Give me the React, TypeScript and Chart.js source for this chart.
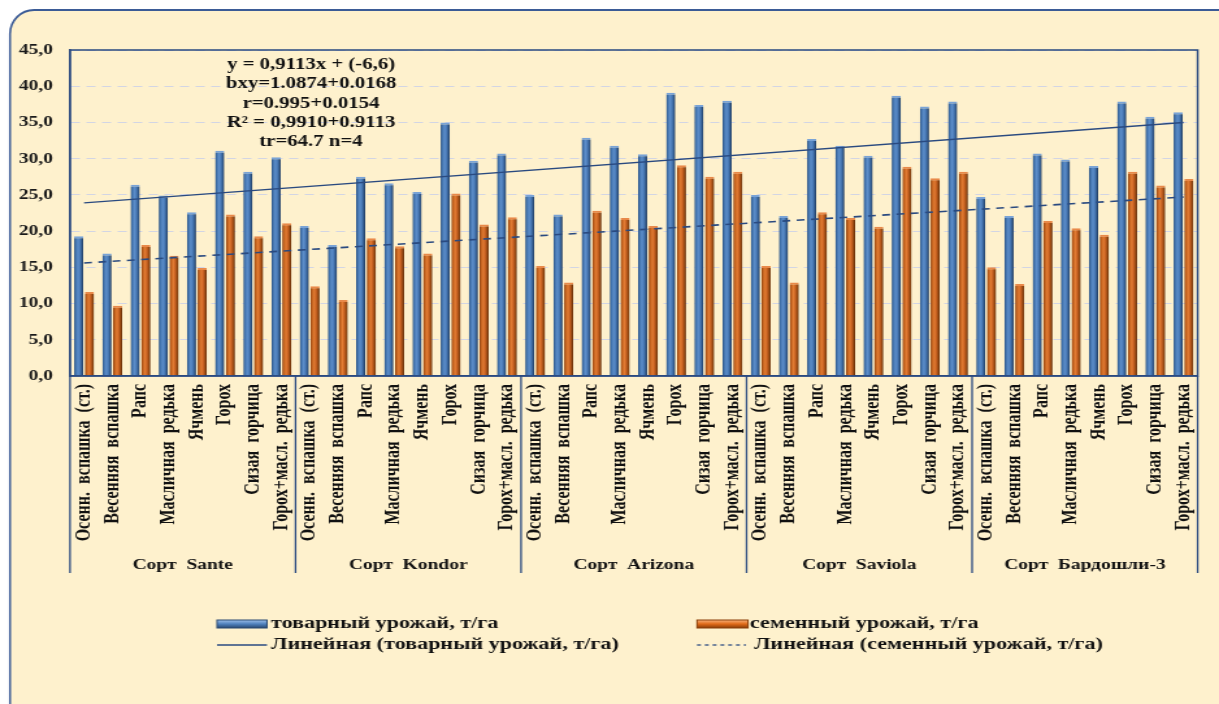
import React, { useEffect, useRef } from 'react';
import { Chart, registerables } from 'chart.js';

Chart.register(...registerables);

// ---------- data ----------
const varieties = ['Сорт  Sante', 'Сорт  Kondor', 'Сорт  Arizona', 'Сорт  Saviola', 'Сорт  Бардошли-3'];
const treatments = [
  'Осенн.  вспашка  (ст.)',
  'Весенняя  вспашка',
  'Рапс',
  'Масличная  редька',
  'Ячмень',
  'Горох',
  'Сизая  горчица',
  'Горох+масл.  редька',
];
const commercialYield = [
  19.3, 16.9, 26.4, 24.9, 22.6, 31.1, 28.2, 30.2,
  20.7, 18.1, 27.5, 26.6, 25.4, 35.0, 29.7, 30.7,
  25.0, 22.3, 32.9, 31.8, 30.6, 39.1, 37.4, 38.0,
  25.0, 22.1, 32.7, 31.8, 30.4, 38.7, 37.2, 37.9,
  24.7, 22.1, 30.7, 29.9, 29.0, 37.9, 35.8, 36.4,
];
const seedYield = [
  11.6, 9.7, 18.1, 16.6, 14.9, 22.3, 19.3, 21.1,
  12.4, 10.5, 19.0, 17.9, 16.9, 25.2, 20.9, 21.9,
  15.2, 12.9, 22.8, 21.8, 20.7, 29.1, 27.5, 28.2,
  15.2, 12.9, 22.6, 21.8, 20.6, 28.9, 27.3, 28.2,
  15.0, 12.7, 21.4, 20.4, 19.5, 28.2, 26.3, 27.2,
];
const commercialTrend = [23.9, 35.0]; // first / last category
const seedTrend = [15.6, 24.7];
const yMin = 0;
const yMax = 45;
const yStep = 5;
const annotationLines = [
  'y = 0,9113x + (-6,6)',
  'bxy=1.0874+0.0168',
  'r=0.995+0.0154',
  'R² = 0,9910+0.9113',
  'tr=64.7 n=4',
];
const legendLabels = [
  'товарный урожай, т/га',
  'семенный урожай, т/га',
  'Линейная (товарный урожай, т/га)',
  'Линейная (семенный урожай, т/га)',
];

const categories = varieties.flatMap(() => treatments);
const trendSeries = (t: number[]) =>
  categories.map((_, i) => (i === 0 ? t[0] : i === categories.length - 1 ? t[1] : null));

// ---------- styling ----------
const CW = 938; // canvas render width, displayed stretched to 1219
const CH = 704;
const S = 1219 / CW;
const FONT = "'Liberation Serif', 'Times New Roman', serif";
const AXIS = '#2A4A80';
const CAT_PCT = 0.76;
const BAR_PCT = 0.86;

const BLUE_STOPS: [number, string][] = [
  [0, '#2E527F'], [0.18, '#4172AC'], [0.42, '#5C8DC9'], [0.62, '#4C7DBA'], [0.85, '#2F5687'], [1, '#1C3353'],
];
const ORANGE_STOPS: [number, string][] = [
  [0, '#86400F'], [0.18, '#C0601D'], [0.42, '#E27C33'], [0.62, '#C96222'], [0.85, '#8E440F'], [1, '#572606'],
];

function barFill(c: any, di: number, stops: [number, string][], flat: string) {
  const chart = c.chart;
  const xs = chart.scales && chart.scales.x;
  const area = chart.chartArea;
  if (!xs || !area || c.type !== 'data') return flat;
  const center = xs.getPixelForValue(c.dataIndex);
  const cat = (area.right - area.left) / categories.length;
  const slot = (cat * CAT_PCT) / 2;
  const bx = center + (di === 0 ? -slot / 2 : slot / 2);
  const w = slot * BAR_PCT;
  if (!isFinite(bx) || !isFinite(w) || w <= 0) return flat;
  const g = chart.ctx.createLinearGradient(bx - w / 2, 0, bx + w / 2, 0);
  stops.forEach(([o, col]) => g.addColorStop(o, col));
  return g;
}

const decorPlugin = {
  id: 'decor',
  beforeDraw(chart: any) {
    const { ctx, width, height } = chart;
    ctx.save();
    ctx.fillStyle = '#ffffff';
    ctx.fillRect(0, 0, width, height);
    ctx.scale(1 / S, 1);
    ctx.beginPath();
    ctx.roundRect(10, 10, 1260, 740, 24);
    ctx.fillStyle = '#FEF1CD';
    ctx.fill();
    ctx.lineWidth = 2;
    ctx.strokeStyle = '#3B5B96';
    ctx.stroke();
    ctx.restore();
  },
  afterDraw(chart: any) {
    const { ctx, chartArea: a } = chart;
    const x = chart.scales.x;
    ctx.save();
    // plot frame
    ctx.strokeStyle = AXIS;
    ctx.lineWidth = 1.5;
    ctx.strokeRect(a.left, a.top, a.right - a.left, a.bottom - a.top);

    // group separators & labels
    const n = treatments.length;
    const bounds: number[] = [];
    for (let g = 0; g <= varieties.length; g++) {
      let px: number;
      if (g === 0) px = a.left;
      else if (g === varieties.length) px = a.right;
      else px = (x.getPixelForValue(g * n - 1) + x.getPixelForValue(g * n)) / 2;
      bounds.push(px);
    }
    ctx.lineWidth = 1.3;
    bounds.forEach((px) => {
      ctx.beginPath();
      ctx.moveTo(px, a.bottom);
      ctx.lineTo(px, a.bottom + 197);
      ctx.stroke();
    });
    ctx.fillStyle = '#111';
    ctx.font = `bold 15px ${FONT}`;
    ctx.textAlign = 'center';
    ctx.textBaseline = 'middle';
    varieties.forEach((v, g) => ctx.fillText(v, (bounds[g] + bounds[g + 1]) / 2, a.bottom + 189));

    // regression annotation
    ctx.font = `bold 16px ${FONT}`;
    annotationLines.forEach((t, i) => ctx.fillText(t, 311 / S, 65 + i * 19.3));

    // legend
    ctx.textAlign = 'left';
    ctx.font = `bold 17px ${FONT}`;
    const icon = (x0: number, x1: number, y: number, cols: string[]) => {
      const g = ctx.createLinearGradient(0, y - 4, 0, y + 4);
      g.addColorStop(0, cols[0]);
      g.addColorStop(0.5, cols[1]);
      g.addColorStop(1, cols[2]);
      ctx.fillStyle = g;
      ctx.fillRect(x0 / S, y - 4, (x1 - x0) / S, 8);
      ctx.strokeStyle = cols[2];
      ctx.lineWidth = 1;
      ctx.strokeRect(x0 / S, y - 4, (x1 - x0) / S, 8);
    };
    icon(217, 267, 624, ['#9DC0EA', '#4F81BD', '#2A4A72']);
    icon(697, 748, 624, ['#F8B07A', '#E06A18', '#8A3E08']);
    ctx.fillStyle = '#111';
    ctx.fillText(legendLabels[0], 271 / S, 624);
    ctx.fillText(legendLabels[1], 750 / S, 624);

    ctx.strokeStyle = AXIS;
    ctx.lineWidth = 1.3;
    ctx.beginPath();
    ctx.moveTo(217 / S, 645);
    ctx.lineTo(267 / S, 645);
    ctx.stroke();
    ctx.setLineDash([3, 3]);
    ctx.beginPath();
    ctx.moveTo(697 / S, 645);
    ctx.lineTo(746 / S, 645);
    ctx.stroke();
    ctx.setLineDash([]);
    ctx.fillText(legendLabels[2], 271 / S, 645);
    ctx.fillText(legendLabels[3], 754 / S, 645);
    ctx.restore();
  },
};

export default function App() {
  const ref = useRef<HTMLCanvasElement>(null);
  useEffect(() => {
    document.body.style.margin = '0';
    const canvas = ref.current;
    if (!canvas) return;
    const chart = new Chart(canvas, {
      type: 'bar',
      data: {
        labels: categories,
        datasets: [
          {
            type: 'line',
            label: legendLabels[2],
            data: trendSeries(commercialTrend),
            borderColor: AXIS,
            borderWidth: 1.4,
            pointRadius: 0,
            spanGaps: true,
            fill: false,
            order: 0,
          } as any,
          {
            type: 'line',
            label: legendLabels[3],
            data: trendSeries(seedTrend),
            borderColor: AXIS,
            borderWidth: 1.6,
            borderDash: [6, 5],
            pointRadius: 0,
            spanGaps: true,
            fill: false,
            order: 0,
          } as any,
          {
            type: 'bar',
            label: legendLabels[0],
            data: commercialYield,
            backgroundColor: (c: any) => barFill(c, 0, BLUE_STOPS, '#4F81BD'),
            borderColor: '#79A3D6',
            borderWidth: { top: 2, left: 0, right: 0, bottom: 0 },
            borderSkipped: 'bottom',
            categoryPercentage: CAT_PCT,
            barPercentage: BAR_PCT,
            order: 2,
          } as any,
          {
            type: 'bar',
            label: legendLabels[1],
            data: seedYield,
            backgroundColor: (c: any) => barFill(c, 1, ORANGE_STOPS, '#C55A11'),
            borderColor: '#E8894A',
            borderWidth: { top: 2, left: 0, right: 0, bottom: 0 },
            borderSkipped: 'bottom',
            categoryPercentage: CAT_PCT,
            barPercentage: BAR_PCT,
            order: 2,
          } as any,
        ],
      },
      options: {
        responsive: false,
        animation: false,
        layout: { padding: { left: 10, right: CW - 1208 / S, top: 50, bottom: CH - 376 - 200 } },
        plugins: { legend: { display: false }, tooltip: { enabled: false } },
        scales: {
          x: {
            grid: { display: false, drawTicks: false },
            border: { display: true, color: AXIS, width: 1.5 },
            ticks: {
              autoSkip: false,
              maxRotation: 90,
              minRotation: 90,
              padding: 8,
              color: '#111',
              font: { family: FONT, size: 16, weight: 'bold' },
            },
            afterFit: (s: any) => {
              s.height = 200;
            },
          },
          y: {
            min: yMin,
            max: yMax,
            ticks: {
              stepSize: yStep,
              padding: 13,
              color: '#1a1a1a',
              font: { family: FONT, size: 15, weight: 'bold' },
              callback: (v: any) => Number(v).toFixed(1).replace('.', ','),
            },
            grid: { color: '#D2D5E4', lineWidth: 1, drawTicks: false },
            border: { display: true, color: AXIS, width: 1.5, dash: [7, 5] },
            afterFit: (s: any) => {
              s.width = 70 / S - 10;
            },
          },
        },
      } as any,
      plugins: [decorPlugin],
    });
    return () => chart.destroy();
  }, []);
  return (
    <canvas
      ref={ref}
      width={CW}
      height={CH}
      style={{ display: 'block', width: '1219px', height: '704px' }}
    />
  );
}
